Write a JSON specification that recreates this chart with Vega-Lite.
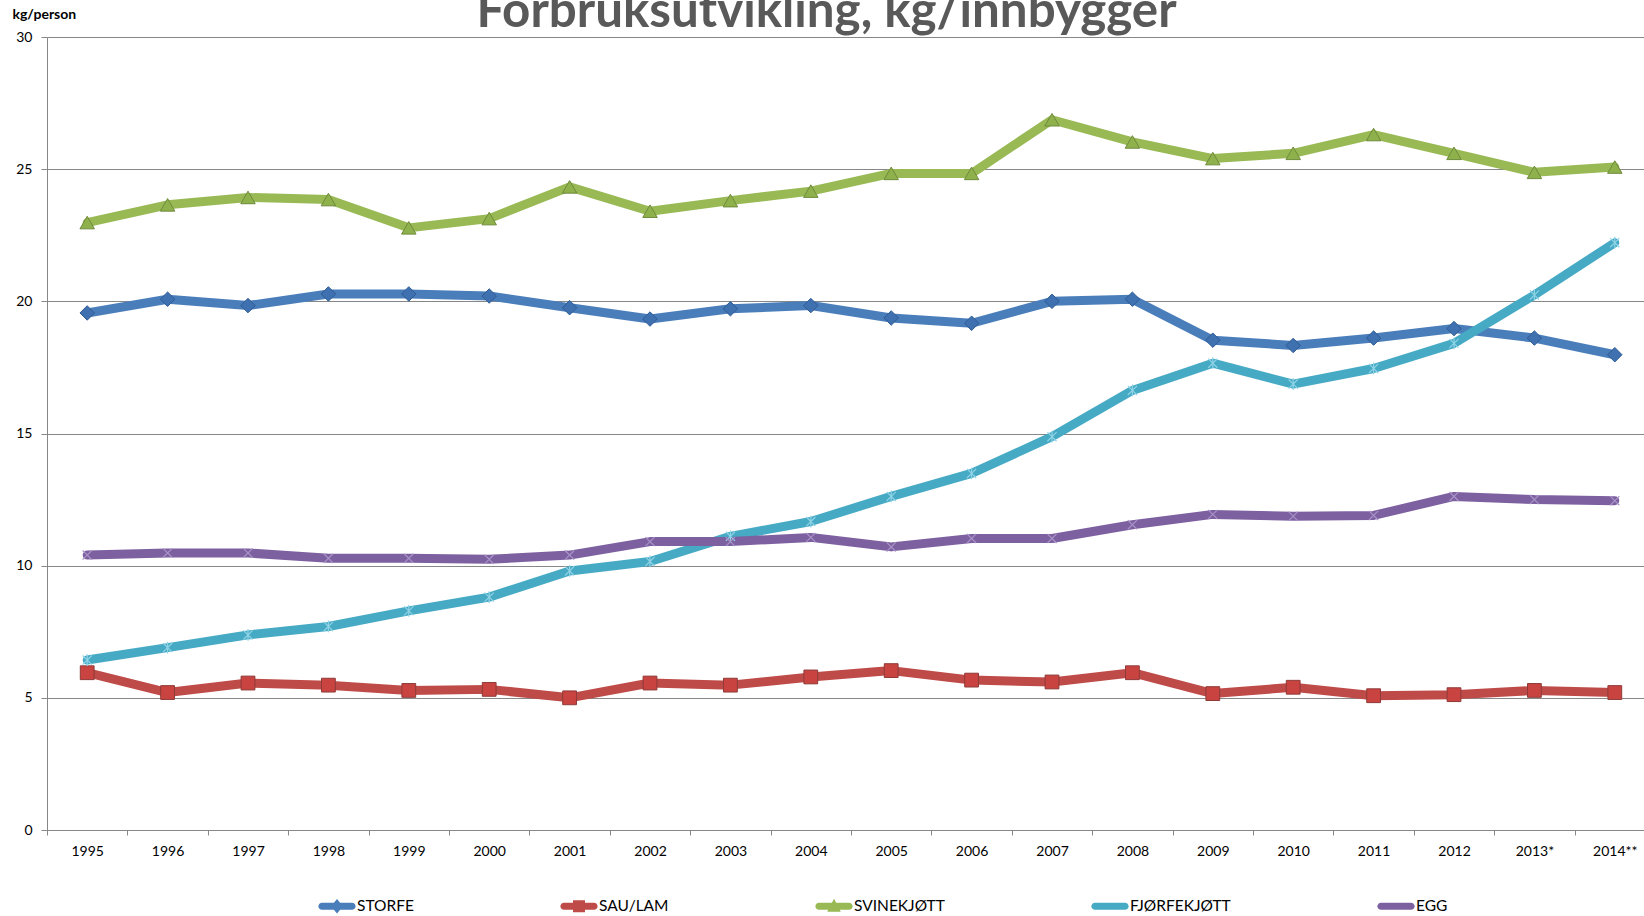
{
  "$schema": "https://vega.github.io/schema/vega-lite/v6.json",
  "autosize": {"type": "none"},
  "width": 1597,
  "height": 793,
  "padding": {"left": 47, "top": 37, "right": 0, "bottom": 86},
  "background": "white",
  "title": {
    "text": "Forbruksutvikling, kg/innbygger",
    "font": "Lato",
    "fontSize": 49.3,
    "fontWeight": "bold",
    "color": "#595959",
    "anchor": "middle",
    "frame": "group",
    "dx": -19,
    "dy": 34
  },
  "data": {
    "values": [
      {"year": "1995", "series": "STORFE", "value": 19.56},
      {"year": "1996", "series": "STORFE", "value": 20.08},
      {"year": "1997", "series": "STORFE", "value": 19.84},
      {"year": "1998", "series": "STORFE", "value": 20.28},
      {"year": "1999", "series": "STORFE", "value": 20.28},
      {"year": "2000", "series": "STORFE", "value": 20.2},
      {"year": "2001", "series": "STORFE", "value": 19.76},
      {"year": "2002", "series": "STORFE", "value": 19.33},
      {"year": "2003", "series": "STORFE", "value": 19.72},
      {"year": "2004", "series": "STORFE", "value": 19.84},
      {"year": "2005", "series": "STORFE", "value": 19.37},
      {"year": "2006", "series": "STORFE", "value": 19.17},
      {"year": "2007", "series": "STORFE", "value": 20.0},
      {"year": "2008", "series": "STORFE", "value": 20.08},
      {"year": "2009", "series": "STORFE", "value": 18.53},
      {"year": "2010", "series": "STORFE", "value": 18.33},
      {"year": "2011", "series": "STORFE", "value": 18.61},
      {"year": "2012", "series": "STORFE", "value": 18.97},
      {"year": "2013*", "series": "STORFE", "value": 18.61},
      {"year": "2014**", "series": "STORFE", "value": 17.98},
      {"year": "1995", "series": "SAU/LAM", "value": 5.95},
      {"year": "1996", "series": "SAU/LAM", "value": 5.2},
      {"year": "1997", "series": "SAU/LAM", "value": 5.56},
      {"year": "1998", "series": "SAU/LAM", "value": 5.48},
      {"year": "1999", "series": "SAU/LAM", "value": 5.28},
      {"year": "2000", "series": "SAU/LAM", "value": 5.32},
      {"year": "2001", "series": "SAU/LAM", "value": 5.0},
      {"year": "2002", "series": "SAU/LAM", "value": 5.56},
      {"year": "2003", "series": "SAU/LAM", "value": 5.48},
      {"year": "2004", "series": "SAU/LAM", "value": 5.79},
      {"year": "2005", "series": "SAU/LAM", "value": 6.03},
      {"year": "2006", "series": "SAU/LAM", "value": 5.67},
      {"year": "2007", "series": "SAU/LAM", "value": 5.6},
      {"year": "2008", "series": "SAU/LAM", "value": 5.95},
      {"year": "2009", "series": "SAU/LAM", "value": 5.16},
      {"year": "2010", "series": "SAU/LAM", "value": 5.4},
      {"year": "2011", "series": "SAU/LAM", "value": 5.08},
      {"year": "2012", "series": "SAU/LAM", "value": 5.12},
      {"year": "2013*", "series": "SAU/LAM", "value": 5.28},
      {"year": "2014**", "series": "SAU/LAM", "value": 5.2},
      {"year": "1995", "series": "SVINEKJØTT", "value": 22.98},
      {"year": "1996", "series": "SVINEKJØTT", "value": 23.65},
      {"year": "1997", "series": "SVINEKJØTT", "value": 23.93},
      {"year": "1998", "series": "SVINEKJØTT", "value": 23.85},
      {"year": "1999", "series": "SVINEKJØTT", "value": 22.78},
      {"year": "2000", "series": "SVINEKJØTT", "value": 23.13},
      {"year": "2001", "series": "SVINEKJØTT", "value": 24.33},
      {"year": "2002", "series": "SVINEKJØTT", "value": 23.41},
      {"year": "2003", "series": "SVINEKJØTT", "value": 23.81},
      {"year": "2004", "series": "SVINEKJØTT", "value": 24.17},
      {"year": "2005", "series": "SVINEKJØTT", "value": 24.84},
      {"year": "2006", "series": "SVINEKJØTT", "value": 24.84},
      {"year": "2007", "series": "SVINEKJØTT", "value": 26.87},
      {"year": "2008", "series": "SVINEKJØTT", "value": 26.03},
      {"year": "2009", "series": "SVINEKJØTT", "value": 25.4},
      {"year": "2010", "series": "SVINEKJØTT", "value": 25.6},
      {"year": "2011", "series": "SVINEKJØTT", "value": 26.31},
      {"year": "2012", "series": "SVINEKJØTT", "value": 25.6},
      {"year": "2013*", "series": "SVINEKJØTT", "value": 24.88},
      {"year": "2014**", "series": "SVINEKJØTT", "value": 25.08},
      {"year": "1995", "series": "FJØRFEKJØTT", "value": 6.43},
      {"year": "1996", "series": "FJØRFEKJØTT", "value": 6.9},
      {"year": "1997", "series": "FJØRFEKJØTT", "value": 7.38},
      {"year": "1998", "series": "FJØRFEKJØTT", "value": 7.7},
      {"year": "1999", "series": "FJØRFEKJØTT", "value": 8.29},
      {"year": "2000", "series": "FJØRFEKJØTT", "value": 8.81},
      {"year": "2001", "series": "FJØRFEKJØTT", "value": 9.8},
      {"year": "2002", "series": "FJØRFEKJØTT", "value": 10.16},
      {"year": "2003", "series": "FJØRFEKJØTT", "value": 11.11},
      {"year": "2004", "series": "FJØRFEKJØTT", "value": 11.67},
      {"year": "2005", "series": "FJØRFEKJØTT", "value": 12.62},
      {"year": "2006", "series": "FJØRFEKJØTT", "value": 13.49},
      {"year": "2007", "series": "FJØRFEKJØTT", "value": 14.88},
      {"year": "2008", "series": "FJØRFEKJØTT", "value": 16.63},
      {"year": "2009", "series": "FJØRFEKJØTT", "value": 17.66},
      {"year": "2010", "series": "FJØRFEKJØTT", "value": 16.87},
      {"year": "2011", "series": "FJØRFEKJØTT", "value": 17.46},
      {"year": "2012", "series": "FJØRFEKJØTT", "value": 18.41},
      {"year": "2013*", "series": "FJØRFEKJØTT", "value": 20.24},
      {"year": "2014**", "series": "FJØRFEKJØTT", "value": 22.22},
      {"year": "1995", "series": "EGG", "value": 10.4},
      {"year": "1996", "series": "EGG", "value": 10.48},
      {"year": "1997", "series": "EGG", "value": 10.48},
      {"year": "1998", "series": "EGG", "value": 10.28},
      {"year": "1999", "series": "EGG", "value": 10.28},
      {"year": "2000", "series": "EGG", "value": 10.24},
      {"year": "2001", "series": "EGG", "value": 10.4},
      {"year": "2002", "series": "EGG", "value": 10.91},
      {"year": "2003", "series": "EGG", "value": 10.91},
      {"year": "2004", "series": "EGG", "value": 11.07},
      {"year": "2005", "series": "EGG", "value": 10.71},
      {"year": "2006", "series": "EGG", "value": 11.03},
      {"year": "2007", "series": "EGG", "value": 11.03},
      {"year": "2008", "series": "EGG", "value": 11.55},
      {"year": "2009", "series": "EGG", "value": 11.94},
      {"year": "2010", "series": "EGG", "value": 11.87},
      {"year": "2011", "series": "EGG", "value": 11.9},
      {"year": "2012", "series": "EGG", "value": 12.62},
      {"year": "2013*", "series": "EGG", "value": 12.5},
      {"year": "2014**", "series": "EGG", "value": 12.46}
    ]
  },
  "encoding": {
    "x": {
      "field": "year",
      "type": "ordinal",
      "sort": null,
      "bandPosition": 0.5,
      "scale": {"type": "band", "paddingInner": 0, "paddingOuter": 0, "range": [0, 1608]},
      "axis": {
        "title": null,
        "labelAngle": 0,
        "tickBand": "extent",
        "grid": false,
        "domainColor": "#878787",
        "tickColor": "#878787",
        "tickSize": 5,
        "labelPadding": 9,
        "labelFont": "Lato",
        "labelFontSize": 14,
        "labelColor": "#000000"
      }
    },
    "y": {
      "field": "value",
      "type": "quantitative",
      "scale": {"domain": [0, 30], "nice": false},
      "axis": {
        "values": [0, 5, 10, 15, 20, 25, 30],
        "grid": true,
        "gridColor": "#878787",
        "gridWidth": 1,
        "domainColor": "#878787",
        "tickColor": "#878787",
        "tickSize": 6,
        "labelPadding": 9,
        "labelFont": "Lato",
        "labelFontSize": 14,
        "labelColor": "#000000",
        "title": "kg/person",
        "titleAngle": 0,
        "titleAlign": "left",
        "titleBaseline": "alphabetic",
        "titleX": -35,
        "titleY": -19,
        "titleFont": "Lato",
        "titleFontSize": 14,
        "titleFontWeight": "bold",
        "titleColor": "#000000"
      }
    }
  },
  "layer": [
    {
      "mark": {"type": "line", "strokeWidth": 9, "strokeCap": "round", "strokeJoin": "round"},
      "encoding": {
        "color": {
          "field": "series",
          "type": "nominal",
          "scale": {
            "domain": ["STORFE", "SAU/LAM", "SVINEKJØTT", "FJØRFEKJØTT", "EGG"],
            "range": ["#4a7ebb", "#be4b48", "#98b954", "#46aac5", "#7d60a0"]
          },
          "legend": {
            "title": null,
            "orient": "none",
            "direction": "horizontal",
            "columns": 5,
            "legendX": 270,
            "legendY": 849,
            "symbolSize": 1600,
            "symbolStrokeWidth": 0,
            "labelOffset": 0,
            "columnPadding": 145,
            "labelFont": "Lato",
            "labelFontSize": 15.5,
            "labelColor": "#000000",
            "encode": {
              "symbols": {
                "update": {
                  "fill": {"scale": "color", "field": "value"},
                  "strokeWidth": {"value": 0},
                  "shape": {"signal": "datum.value === 'STORFE' ? 'M-0.75,-0.18L0.75,-0.18A0.18,0.18,0,0,1,0.75,0.18L-0.75,0.18A0.18,0.18,0,0,1,-0.75,-0.18ZM0,-0.36L0.3,0L0,0.36L-0.3,0Z' : datum.value === 'SAU/LAM' ? 'M-0.75,-0.18L0.75,-0.18A0.18,0.18,0,0,1,0.75,0.18L-0.75,0.18A0.18,0.18,0,0,1,-0.75,-0.18ZM-0.3,-0.3L0.3,-0.3L0.3,0.3L-0.3,0.3Z' : datum.value === 'SVINEKJØTT' ? 'M-0.75,-0.18L0.75,-0.18A0.18,0.18,0,0,1,0.75,0.18L-0.75,0.18A0.18,0.18,0,0,1,-0.75,-0.18ZM0,-0.38L0.34,0.28L-0.34,0.28Z' : 'M-0.75,-0.18L0.75,-0.18A0.18,0.18,0,0,1,0.75,0.18L-0.75,0.18A0.18,0.18,0,0,1,-0.75,-0.18Z'"}
                }
              }
            }
          }
        }
      }
    },
    {
      "transform": [{"filter": "datum.series === 'STORFE'"}],
      "mark": {"type": "point", "shape": "diamond", "size": 210, "filled": true, "fill": "#3f71b1", "stroke": "#2f5b93", "strokeWidth": 1, "opacity": 1}
    },
    {
      "transform": [{"filter": "datum.series === 'SAU/LAM'"}],
      "mark": {"type": "point", "shape": "square", "size": 190, "filled": true, "fill": "#c94441", "stroke": "#8e3a38", "strokeWidth": 1, "opacity": 1}
    },
    {
      "transform": [{"filter": "datum.series === 'SVINEKJØTT'"}],
      "mark": {"type": "point", "shape": "triangle-up", "size": 210, "filled": true, "fill": "#8fb14c", "stroke": "#6f8a3c", "strokeWidth": 1, "opacity": 1}
    },
    {
      "transform": [{"filter": "datum.series === 'FJØRFEKJØTT'"}],
      "mark": {"type": "point", "shape": "M-0.7,-0.7L0.7,0.7M-0.7,0.7L0.7,-0.7M0,-0.9L0,0.9", "size": 170, "filled": false, "stroke": "#8fd3e6", "strokeWidth": 1.2, "opacity": 1}
    },
    {
      "transform": [{"filter": "datum.series === 'EGG'"}],
      "mark": {"type": "point", "shape": "M-0.7,-0.7L0.7,0.7M-0.7,0.7L0.7,-0.7", "size": 170, "filled": false, "stroke": "#a893c8", "strokeWidth": 1.2, "opacity": 1}
    }
  ],
  "config": {
    "view": {"stroke": null}
  }
}
